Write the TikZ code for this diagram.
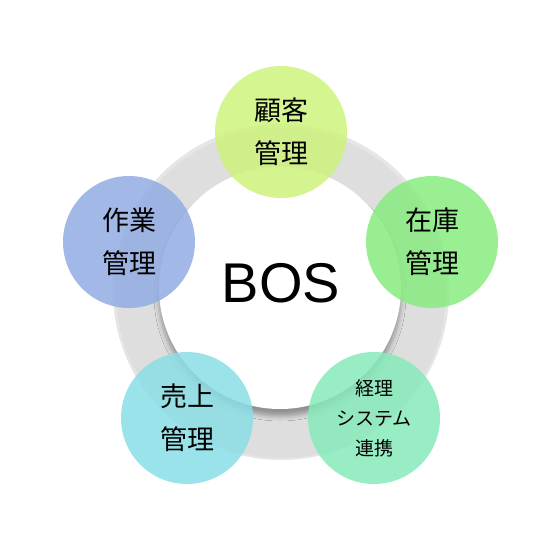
\documentclass[tikz,border=0pt]{standalone}
\usepackage{fontspec}
\setmainfont{Liberation Sans}
\newfontfamily\jpfont{Noto Sans CJK JP}
\usetikzlibrary{shadows.blur}

\definecolor{ringgray}{RGB}{222,222,222}
\definecolor{kokyakucol}{RGB}{206,243,125}
\definecolor{zaikocol}{RGB}{136,236,128}
\definecolor{keiricol}{RGB}{134,234,186}
\definecolor{uriagecol}{RGB}{138,222,230}
\definecolor{sagyoucol}{RGB}{146,172,226}

\tikzset{
  bubble/.style={circle, minimum size=132pt, inner sep=0pt, align=center,
    fill opacity=0.85, text opacity=1, font=\jpfont\fontsize{27}{43}\selectfont},
  smallbubble/.style={bubble, font=\jpfont\fontsize{19}{30}\selectfont}
}

\begin{document}
\begin{tikzpicture}[x=1pt,y=-1pt]
  \useasboundingbox (0,0) rectangle (560,560);
  %\draw[step=20pt,gray,very thin] (0,0) grid (560,560);

  % gray ring
  \fill[ringgray!75] (281,292) circle (168);
  \fill[ringgray] (281,293) circle (165);

  % center
  \node[circle, minimum size=242pt, inner sep=0pt, fill=white,
    blur shadow={shadow xshift=0pt, shadow yshift=-7pt, shadow blur radius=5pt, shadow opacity=35}]
    (bos) at (280,288) {};
  \node[font=\fontsize{56}{60}\selectfont] (bostext) at (281,283) {BOS};

  % five bubbles
  \node[bubble, fill=kokyakucol] (kokyaku) at (281,132) {顧客\\管理};
  \node[bubble, fill=zaikocol] (zaiko) at (432,242) {在庫\\管理};
  \node[smallbubble, fill=keiricol] (keiri) at (374,418) {経理\\システム\\連携};
  \node[bubble, fill=uriagecol] (uriage) at (187,418) {売上\\管理};
  \node[bubble, fill=sagyoucol] (sagyou) at (129,242) {作業\\管理};

\end{tikzpicture}
\end{document}
